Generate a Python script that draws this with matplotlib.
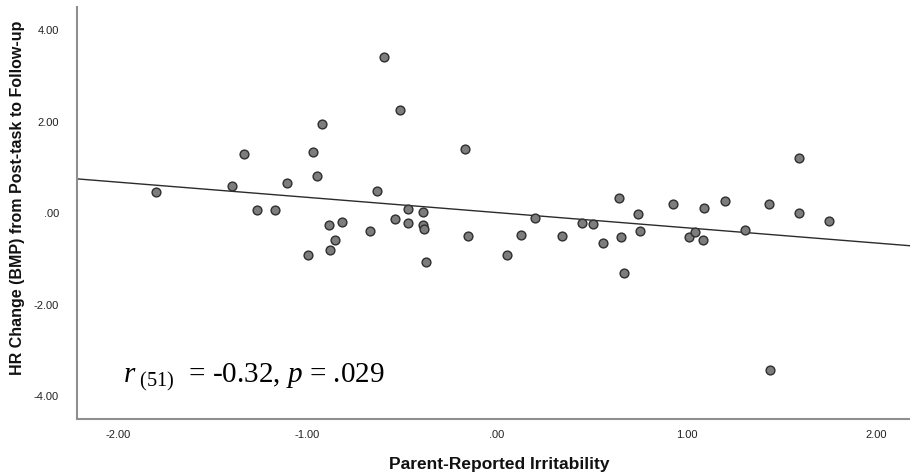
import numpy as np
import matplotlib
matplotlib.use("Agg")
import matplotlib.pyplot as plt
from matplotlib import rcParams

rcParams.update({
    "font.family": "Liberation Sans",
    "mathtext.fontset": "custom",
    "mathtext.rm": "Liberation Serif",
    "mathtext.it": "Liberation Serif:italic",
})

# irritability (x) vs HR change (y)
irritability = [-1.80, -0.595, -0.512, -0.922, -1.333, -0.969, -0.951, -0.169, -1.398, -1.11,
                -0.633, -1.266, -1.173, -0.885, -0.820, -0.857, -0.880, -0.996, -0.670, -0.471,
                -0.392, -0.538, -0.470, -0.392, -0.385, -0.376, -0.153, 0.051, 0.127, 0.202,
                0.341, 0.447, 0.507, 0.558, 0.642, 0.656, 0.670, 0.746, 0.756, 0.930,
                1.013, 1.048, 1.085, 1.094, 1.205, 1.307, 1.434, 1.594, 1.752, 1.592,
                1.439]
hr_change = [0.43, 3.39, 2.22, 1.92, 1.26, 1.32, 0.79, 1.37, 0.57, 0.63,
             0.46, 0.044, 0.044, -0.284, -0.21, -0.62, -0.82, -0.94, -0.42, 0.06,
             -0.007, -0.16, -0.24, -0.28, -0.38, -1.10, -0.52, -0.94, -0.51, -0.14,
             -0.52, -0.23, -0.25, -0.68, 0.31, -0.55, -1.34, -0.04, -0.42, 0.17,
             -0.55, -0.43, -0.60, 0.087, 0.25, -0.40, 0.17, -0.03, -0.19, 1.19,
             -3.46]

xticks = [-2, -1, 0, 1, 2]
xticklabels = ["-2.00", "-1.00", ".00", "1.00", "2.00"]
yticks = [-4, -2, 0, 2, 4]
yticklabels = ["-4.00", "-2.00", ".00", "2.00", "4.00"]

x = np.array(irritability)
y = np.array(hr_change)
slope, intercept = np.polyfit(x, y, 1)

fig = plt.figure(figsize=(9.10, 4.77), dpi=100)
ax = fig.add_axes([77 / 910, 57 / 477, 1 - 77 / 910, (420 - 8) / 477])

xlim = (-2.216, 2.18)
ax.set_xlim(*xlim)
ax.set_ylim(-4.52, 4.48)

# fit line across the full axis
xs = np.array(xlim)
ax.plot(xs, intercept + slope * xs, color="#2b2b2b", linewidth=1.0, zorder=2)
ax.scatter(x, y, s=40, facecolor="#7d7d7d", edgecolor="#2e2e2e", linewidth=1.0, zorder=3)

ax.set_xticks(xticks)
ax.set_xticklabels(xticklabels)
ax.set_yticks(yticks)
ax.set_yticklabels(yticklabels)
ax.tick_params(length=0, labelsize=8, colors="#222222")
ax.tick_params(axis="y", pad=13)
ax.tick_params(axis="x", pad=7)

ax.spines['right'].set_visible(False)
ax.spines['top'].set_visible(False)
for s in ("left", "bottom"):
    ax.spines[s].set_color("#8f8f8f")
    ax.spines[s].set_linewidth(1.5)

fig.text(18 / 910, 1 - 198 / 477, "HR Change (BMP) from Post-task to Follow-up",
         rotation=90, ha="center", va="center", fontsize=11.5, fontweight="bold",
         color="#111111")
fig.text(499 / 910, 1 - 465 / 477, "Parent-Reported Irritability",
         ha="center", va="center", fontsize=12.5, fontweight="bold", color="#111111")

fig.text(123 / 910, 1 - 382 / 477, r"$r_{\ (51)}$  = -0.32, $p$ = .029",
         fontfamily="Liberation Serif", fontsize=21, ha="left", va="baseline")

fig.savefig("out.png", dpi=100)
